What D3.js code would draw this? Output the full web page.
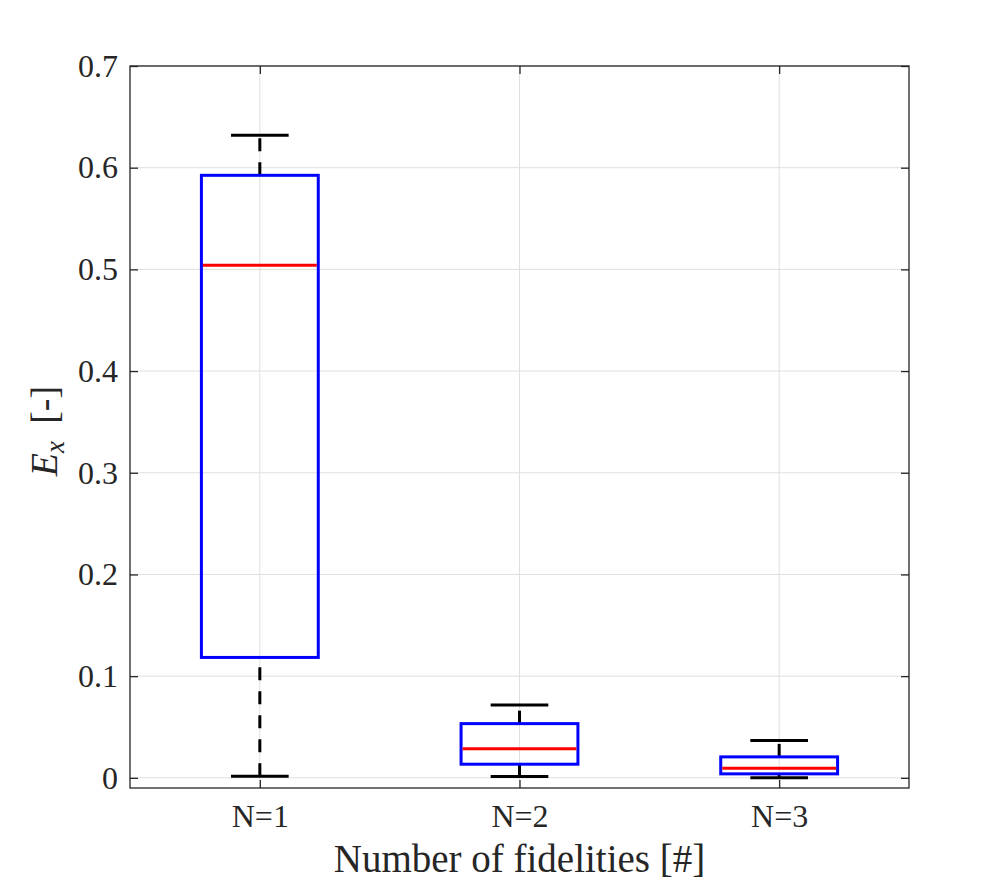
<!DOCTYPE html>
<html>
<head>
<meta charset="utf-8">
<script src="https://cdnjs.cloudflare.com/ajax/libs/d3/7.8.5/d3.min.js"></script>
<style>
  body { margin: 0; background: #fff; }
  text { font-family: 'Liberation Serif', 'DejaVu Serif', serif; fill: #262626; }
</style>
</head>
<body>
<div id="chart"></div>
<script>
const categories = ['N=1', 'N=2', 'N=3'];
const lowerWhisker = [0.0016, 0.0013, 0.0000];
const q1 = [0.1184, 0.0134, 0.0039];
const medians = [0.504, 0.0285, 0.0094];
const q3 = [0.5925, 0.0533, 0.0206];
const upperWhisker = [0.632, 0.0717, 0.0366];
const yTicks = [0, 0.1, 0.2, 0.3, 0.4, 0.5, 0.6, 0.7];

const width = 1004, height = 886;
const margin = { top: 66, right: 95, bottom: 98, left: 130 };
const plotW = width - margin.left - margin.right;
const plotH = height - margin.top - margin.bottom;

const xScale = d3.scaleLinear().domain([0.5, 3.5]).range([0, plotW]);
const yScale = d3.scaleLinear().domain([-0.01, 0.7]).range([plotH, 0]);

const boxes = categories.map((c, i) => ({
    name: c, pos: i + 1,
    lo: lowerWhisker[i], q1: q1[i], med: medians[i], q3: q3[i], hi: upperWhisker[i]
}));

const svg = d3.select('#chart').append('svg')
    .attr('width', width)
    .attr('height', height);

const g = svg.append('g')
    .attr('transform', `translate(${margin.left},${margin.top})`);

// grid
g.append('g').selectAll('line.hgrid')
    .data(yTicks).enter().append('line')
    .attr('x1', 0).attr('x2', plotW)
    .attr('y1', d => yScale(d)).attr('y2', d => yScale(d))
    .style('stroke', '#dfdfdf').style('stroke-width', 1);

g.append('g').selectAll('line.vgrid')
    .data(boxes).enter().append('line')
    .attr('x1', d => xScale(d.pos)).attr('x2', d => xScale(d.pos))
    .attr('y1', 0).attr('y2', plotH)
    .style('stroke', '#dfdfdf').style('stroke-width', 1);

// boxes
const boxW = 0.45, capW = 0.222;
const bg = g.append('g');

// whiskers, drawn from lower value to upper value
bg.selectAll('.wlo').data(boxes).enter().append('line')
    .attr('x1', d => xScale(d.pos)).attr('x2', d => xScale(d.pos))
    .attr('y1', d => yScale(d.lo)).attr('y2', d => yScale(d.q1));
bg.selectAll('.whi').data(boxes).enter().append('line')
    .attr('x1', d => xScale(d.pos)).attr('x2', d => xScale(d.pos))
    .attr('y1', d => yScale(d.q3)).attr('y2', d => yScale(d.hi));
bg.selectAll('line')
    .style('stroke', '#000').style('stroke-width', 3)
    .style('stroke-dasharray', '13,11');

// caps
['lo', 'hi'].forEach(k => {
    bg.append('g').selectAll('line').data(boxes).enter().append('line')
        .attr('x1', d => xScale(d.pos - capW / 2)).attr('x2', d => xScale(d.pos + capW / 2))
        .attr('y1', d => yScale(d[k])).attr('y2', d => yScale(d[k]))
        .style('stroke', '#000').style('stroke-width', 3);
});

bg.selectAll('rect').data(boxes).enter().append('rect')
    .attr('x', d => xScale(d.pos - boxW / 2))
    .attr('width', d => xScale(d.pos + boxW / 2) - xScale(d.pos - boxW / 2))
    .attr('y', d => yScale(d.q3))
    .attr('height', d => yScale(d.q1) - yScale(d.q3))
    .style('fill', 'none').style('stroke', '#0000ff').style('stroke-width', 3);

bg.append('g').selectAll('line').data(boxes).enter().append('line')
    .attr('x1', d => xScale(d.pos - boxW / 2) + 1.5).attr('x2', d => xScale(d.pos + boxW / 2) - 1.5)
    .attr('y1', d => yScale(d.med)).attr('y2', d => yScale(d.med))
    .style('stroke', '#ff0000').style('stroke-width', 3);

// axes
const tickLen = 8;
const xAxisB = d3.axisBottom(xScale).tickValues([1, 2, 3])
    .tickFormat(d => categories[d - 1]).tickSizeInner(-tickLen).tickSizeOuter(0).tickPadding(16);
const xAxisT = d3.axisTop(xScale).tickValues([1, 2, 3])
    .tickFormat('').tickSizeInner(-tickLen).tickSizeOuter(0);
const yAxisL = d3.axisLeft(yScale).tickValues(yTicks)
    .tickFormat(d => d === 0 ? '0' : d3.format('.1f')(d)).tickSizeInner(-tickLen).tickSizeOuter(0).tickPadding(12);
const yAxisR = d3.axisRight(yScale).tickValues(yTicks)
    .tickFormat('').tickSizeInner(-tickLen).tickSizeOuter(0);

g.append('g').attr('class', 'axis').attr('transform', `translate(0,${plotH})`).call(xAxisB);
g.append('g').attr('class', 'axis').call(xAxisT);
g.append('g').attr('class', 'axis').call(yAxisL);
g.append('g').attr('class', 'axis').attr('transform', `translate(${plotW},0)`).call(yAxisR);

g.selectAll('.axis path').remove();
g.selectAll('.axis line').style('stroke', '#262626').style('stroke-width', 1.3);
g.selectAll('.axis text').style('font-size', '32px').style('fill', '#262626')
    .style('font-family', "'Liberation Serif', serif");

// frame
g.append('rect')
    .attr('x', 0).attr('y', 0).attr('width', plotW).attr('height', plotH)
    .style('fill', 'none').style('stroke', '#262626').style('stroke-width', 1.3);

// labels
svg.append('text')
    .attr('x', margin.left + plotW / 2)
    .attr('y', 872)
    .attr('text-anchor', 'middle')
    .style('font-size', '39px')
    .text('Number of fidelities [#]');

const yl = svg.append('text')
    .attr('transform', `translate(57, ${margin.top + plotH / 2 + 4}) rotate(-90)`)
    .attr('text-anchor', 'middle')
    .style('font-size', '38px');
yl.append('tspan').style('font-style', 'italic').text('E');
yl.append('tspan').attr('dy', 7).style('font-style', 'italic').style('font-size', '27px').text('x');
yl.append('tspan').attr('dy', -7).text('\u2009 [-]');
</script>
</body>
</html>
